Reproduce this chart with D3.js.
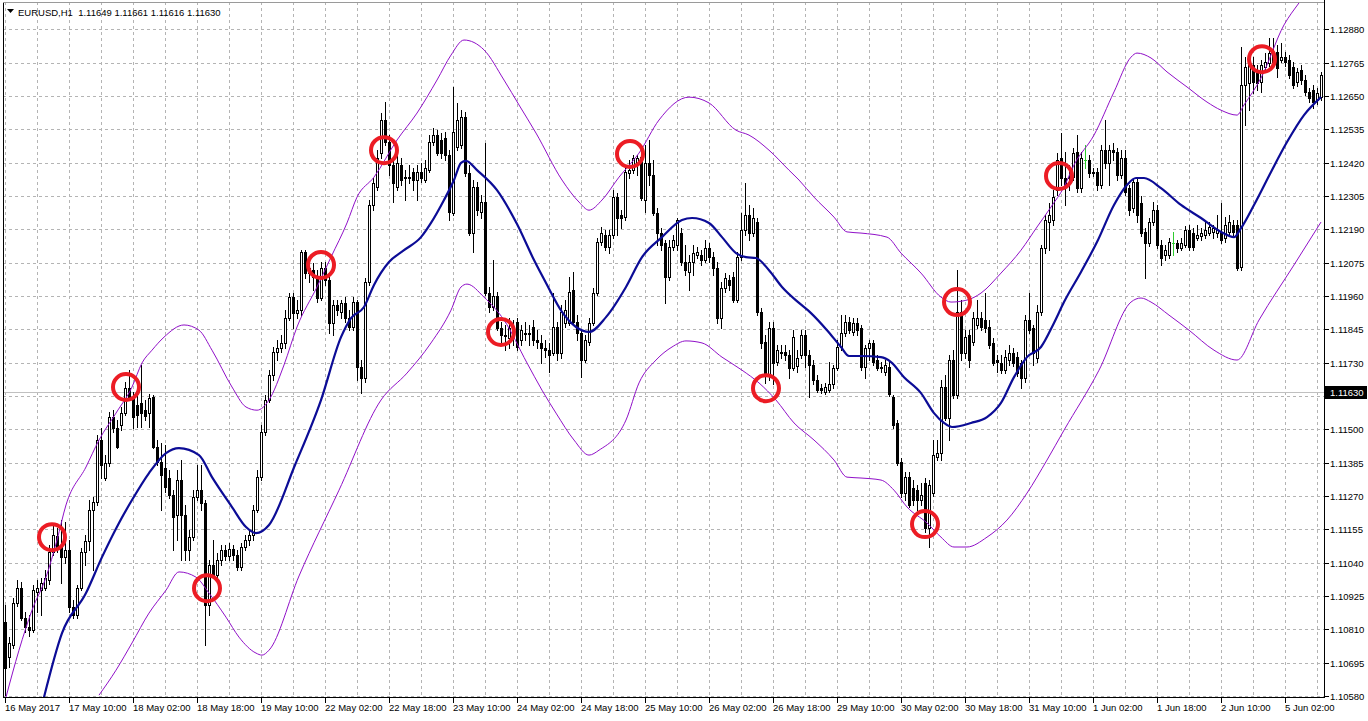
<!DOCTYPE html>
<html><head><meta charset="utf-8">
<script src="https://cdn.jsdelivr.net/npm/d3@7"></script>
<style>html,body{margin:0;padding:0;background:#fff;overflow:hidden}svg{display:block}</style>
</head><body><svg id="c" width="1368" height="721"></svg>
<script>
const symbolTitle = "EURUSD,H1";
const headerValues = ["1.11649","1.11661","1.11616","1.11630"];
const currentPrice = 1.11630;

const barOpen = [1.10835,1.10714,1.10756,1.10901,1.10952,1.10849,1.10818,1.10807,1.10939,1.10945,1.10952,1.10980,1.11077,1.11132,1.11094,1.11059,1.11083,1.10887,1.10859,1.10952,1.11077,1.11115,1.11221,1.11249,1.11463,1.11332,1.11384,1.11542,1.11504,1.11515,1.11556,1.11642,1.11611,1.11584,1.11591,1.11566,1.11556,1.11611,1.11439,1.11387,1.11366,1.11332,1.11273,1.11204,1.11325,1.11204,1.11083,1.11128,1.11266,1.11290,1.11246,1.10894,1.11032,1.10997,1.11049,1.11083,1.11063,1.11087,1.11066,1.11025,1.11094,1.11118,1.11135,1.11221,1.11335,1.11491,1.11601,1.11687,1.11767,1.11780,1.11798,1.11884,1.11956,1.11901,1.11911,1.12112,1.12056,1.12049,1.12025,1.11953,1.12056,1.12015,1.11867,1.11929,1.11905,1.11936,1.11884,1.11853,1.11939,1.11715,1.11677,1.12008,1.12274,1.12336,1.12453,1.12567,1.12491,1.12412,1.12336,1.12412,1.12367,1.12370,1.12388,1.12360,1.12388,1.12360,1.12394,1.12491,1.12515,1.12498,1.12505,1.12446,1.12246,1.12474,1.12481,1.12577,1.12384,1.12177,1.12336,1.12250,1.12284,1.11970,1.11922,1.11960,1.11849,1.11825,1.11815,1.11842,1.11870,1.11808,1.11829,1.11832,1.11853,1.11808,1.11798,1.11780,1.11773,1.11763,1.11853,1.11763,1.11867,1.11867,1.11980,1.11870,1.11832,1.11739,1.11801,1.11867,1.11970,1.12146,1.12170,1.12129,1.12170,1.12301,1.12239,1.12232,1.12384,1.12394,1.12412,1.12439,1.12291,1.12419,1.12377,1.12246,1.12177,1.12143,1.12025,1.12129,1.12136,1.12177,1.12077,1.12043,1.12077,1.12101,1.12101,1.12084,1.12125,1.12094,1.12056,1.11884,1.11987,1.12015,1.12025,1.11946,1.12094,1.12187,1.12239,1.12177,1.12215,1.11905,1.11801,1.11687,1.11849,1.11732,1.11767,1.11767,1.11756,1.11711,1.11718,1.11756,1.11825,1.11756,1.11722,1.11670,1.11642,1.11629,1.11635,1.11656,1.11711,1.11784,1.11832,1.11870,1.11835,1.11867,1.11849,1.11715,1.11780,1.11798,1.11739,1.11711,1.11698,1.11715,1.11611,1.11522,1.11387,1.11280,1.11335,1.11297,1.11290,1.11256,1.11315,1.11159,1.11280,1.11404,1.11418,1.11646,1.11539,1.11739,1.11618,1.11905,1.11763,1.11825,1.11801,1.11860,1.11884,1.11877,1.11853,1.11798,1.11739,1.11729,1.11704,1.11739,1.11763,1.11749,1.11729,1.11677,1.11877,1.11849,1.11746,1.11905,1.12125,1.12215,1.12222,1.12325,1.12436,1.12367,1.12367,1.12370,1.12457,1.12332,1.12429,1.12429,1.12384,1.12388,1.12343,1.12463,1.12419,1.12463,1.12457,1.12377,1.12436,1.12332,1.12263,1.12353,1.12281,1.12181,1.12143,1.12215,1.12256,1.12136,1.12101,1.12101,1.12143,1.12143,1.12125,1.12136,1.12187,1.12177,1.12160,1.12167,1.12170,1.12177,1.12181,1.12177,1.12181,1.12160,1.12181,1.12205,1.12205,1.12060,1.12688,1.12695,1.12757,1.12729,1.12698,1.12750,1.12764,1.12798,1.12802,1.12774,1.12784,1.12774,1.12750,1.12698,1.12739,1.12705,1.12664,1.12670,1.12636,1.12646];

const barHigh = [1.10894,1.10783,1.10918,1.10980,1.10973,1.10870,1.10859,1.10963,1.10980,1.10987,1.11014,1.11101,1.11170,1.11159,1.11187,1.11180,1.11118,1.10911,1.10963,1.11090,1.11135,1.11256,1.11266,1.11480,1.11504,1.11411,1.11560,1.11566,1.11532,1.11577,1.11663,1.11704,1.11629,1.11618,1.11722,1.11601,1.11622,1.11618,1.11463,1.11453,1.11446,1.11359,1.11290,1.11359,1.11394,1.11239,1.11152,1.11290,1.11377,1.11377,1.11256,1.11049,1.11118,1.11073,1.11101,1.11101,1.11108,1.11101,1.11083,1.11108,1.11135,1.11152,1.11239,1.11359,1.11515,1.11618,1.11704,1.11784,1.11808,1.11825,1.11911,1.11970,1.11970,1.11946,1.12118,1.12118,1.12091,1.12074,1.12049,1.12077,1.12077,1.12032,1.11946,1.11946,1.11946,1.11956,1.11911,1.11956,1.11946,1.11739,1.12022,1.12291,1.12367,1.12463,1.12591,1.12629,1.12515,1.12429,1.12446,1.12436,1.12394,1.12412,1.12401,1.12412,1.12419,1.12429,1.12515,1.12539,1.12532,1.12522,1.12526,1.12463,1.12681,1.12626,1.12601,1.12595,1.12412,1.12360,1.12353,1.12308,1.12488,1.11991,1.12084,1.11974,1.11870,1.11860,1.11884,1.11877,1.11884,1.11860,1.11870,1.11860,1.11877,1.11842,1.11825,1.11808,1.11798,1.11970,1.11870,1.11929,1.11946,1.12025,1.12043,1.11894,1.11842,1.11825,1.11884,1.11987,1.12160,1.12198,1.12187,1.12187,1.12325,1.12315,1.12256,1.12401,1.12429,1.12446,1.12446,1.12453,1.12481,1.12498,1.12429,1.12263,1.12194,1.12153,1.12153,1.12170,1.12229,1.12194,1.12136,1.12101,1.12136,1.12129,1.12118,1.12153,1.12143,1.12112,1.12077,1.12008,1.12039,1.12032,1.12043,1.12112,1.12246,1.12350,1.12274,1.12263,1.12229,1.11918,1.11825,1.11870,1.11870,1.11791,1.11791,1.11791,1.11773,1.11842,1.11773,1.11842,1.11842,1.11773,1.11739,1.11687,1.11656,1.11660,1.11732,1.11722,1.11808,1.11894,1.11894,1.11887,1.11884,1.11884,1.11860,1.11791,1.11808,1.11808,1.11756,1.11732,1.11739,1.11732,1.11618,1.11532,1.11401,1.11353,1.11353,1.11325,1.11308,1.11315,1.11332,1.11325,1.11463,1.11463,1.11670,1.11687,1.11756,1.11773,1.12049,1.11946,1.11842,1.11842,1.11905,1.11946,1.11905,1.11970,1.11877,1.11815,1.11756,1.11756,1.11773,1.11791,1.11780,1.11767,1.11739,1.11894,1.11970,1.11860,1.11929,1.12136,1.12239,1.12281,1.12325,1.12453,1.12522,1.12457,1.12412,1.12470,1.12515,1.12457,1.12481,1.12446,1.12401,1.12401,1.12481,1.12567,1.12481,1.12488,1.12470,1.12463,1.12463,1.12343,1.12367,1.12367,1.12305,1.12194,1.12229,1.12284,1.12274,1.12153,1.12136,1.12160,1.12181,1.12153,1.12160,1.12201,1.12205,1.12194,1.12205,1.12194,1.12222,1.12215,1.12205,1.12239,1.12281,1.12232,1.12239,1.12222,1.12222,1.12819,1.12784,1.12774,1.12784,1.12757,1.12774,1.12798,1.12850,1.12850,1.12826,1.12833,1.12802,1.12791,1.12767,1.12746,1.12757,1.12722,1.12677,1.12688,1.12677,1.12733];

const barLow = [1.10583,1.10680,1.10745,1.10890,1.10842,1.10801,1.10787,1.10801,1.10870,1.10859,1.10945,1.10966,1.11066,1.11077,1.10970,1.11039,1.10870,1.10849,1.10849,1.10945,1.11032,1.11083,1.11014,1.11239,1.11332,1.11325,1.11373,1.11491,1.11435,1.11497,1.11549,1.11601,1.11504,1.11508,1.11508,1.11532,1.11508,1.11435,1.11377,1.11221,1.11284,1.11263,1.11083,1.11118,1.11049,1.11049,1.11049,1.11118,1.11256,1.11221,1.10756,1.10859,1.10987,1.10980,1.11032,1.11049,1.11049,1.11049,1.11014,1.11014,1.11083,1.11101,1.11118,1.11215,1.11325,1.11480,1.11594,1.11670,1.11739,1.11767,1.11780,1.11877,1.11849,1.11884,1.11894,1.12022,1.12008,1.11980,1.11939,1.11946,1.11998,1.11832,1.11825,1.11894,1.11884,1.11870,1.11842,1.11842,1.11670,1.11625,1.11663,1.11998,1.12256,1.12325,1.12436,1.12481,1.12377,1.12284,1.12325,1.12343,1.12291,1.12350,1.12325,1.12291,1.12353,1.12353,1.12388,1.12481,1.12446,1.12436,1.12429,1.12222,1.12239,1.12463,1.12470,1.12374,1.12170,1.12112,1.12239,1.12229,1.11963,1.11905,1.11911,1.11842,1.11791,1.11773,1.11780,1.11791,1.11773,1.11791,1.11808,1.11791,1.11791,1.11780,1.11729,1.11749,1.11698,1.11756,1.11739,1.11746,1.11853,1.11860,1.11860,1.11808,1.11680,1.11732,1.11791,1.11860,1.11963,1.12136,1.12118,1.12108,1.12160,1.12170,1.12194,1.12222,1.12367,1.12384,1.12377,1.12291,1.12250,1.12343,1.12239,1.12136,1.12118,1.11936,1.12015,1.12118,1.12118,1.12067,1.12032,1.11980,1.12032,1.12091,1.12067,1.12077,1.12077,1.12032,1.11867,1.11849,1.11974,1.11980,1.11939,1.11939,1.12084,1.12170,1.12153,1.12167,1.11894,1.11780,1.11660,1.11670,1.11656,1.11722,1.11746,1.11739,1.11677,1.11704,1.11698,1.11746,1.11715,1.11611,1.11656,1.11629,1.11625,1.11622,1.11629,1.11642,1.11704,1.11773,1.11822,1.11832,1.11825,1.11825,1.11704,1.11677,1.11739,1.11722,1.11704,1.11698,1.11687,1.11615,1.11504,1.11377,1.11266,1.11256,1.11232,1.11239,1.11221,1.11239,1.11146,1.11094,1.11270,1.11394,1.11394,1.11532,1.11463,1.11608,1.11608,1.11739,1.11746,1.11715,1.11791,1.11849,1.11842,1.11836,1.11780,1.11722,1.11698,1.11694,1.11694,1.11722,1.11718,1.11684,1.11642,1.11663,1.11832,1.11722,1.11732,1.11894,1.12108,1.12118,1.12205,1.12308,1.12343,1.12274,1.12325,1.12360,1.12319,1.12319,1.12401,1.12370,1.12374,1.12325,1.12332,1.12401,1.12343,1.12429,1.12360,1.12367,1.12308,1.12239,1.12250,1.12215,1.12167,1.12022,1.12132,1.12205,1.12125,1.12067,1.12084,1.12091,1.12101,1.12112,1.12118,1.12129,1.12118,1.12118,1.12153,1.12153,1.12160,1.12170,1.12160,1.12163,1.12143,1.12146,1.12170,1.12170,1.12049,1.12049,1.12550,1.12601,1.12660,1.12670,1.12664,1.12739,1.12753,1.12757,1.12715,1.12767,1.12753,1.12712,1.12677,1.12684,1.12691,1.12653,1.12629,1.12608,1.12622,1.12636];

const barClose = [1.10676,1.10763,1.10901,1.10952,1.10849,1.10818,1.10807,1.10945,1.10952,1.10970,1.10987,1.11077,1.11135,1.11094,1.11059,1.11083,1.10887,1.10859,1.10952,1.11077,1.11115,1.11221,1.11249,1.11463,1.11377,1.11384,1.11542,1.11504,1.11439,1.11556,1.11642,1.11611,1.11542,1.11549,1.11556,1.11546,1.11608,1.11439,1.11387,1.11342,1.11301,1.11273,1.11197,1.11325,1.11204,1.11083,1.11128,1.11266,1.11290,1.11246,1.10894,1.11032,1.10997,1.11049,1.11083,1.11063,1.11087,1.11066,1.11025,1.11094,1.11118,1.11135,1.11221,1.11335,1.11491,1.11601,1.11687,1.11767,1.11780,1.11798,1.11884,1.11956,1.11901,1.11911,1.12112,1.12039,1.12039,1.12025,1.11953,1.12056,1.12015,1.11867,1.11929,1.11911,1.11936,1.11884,1.11853,1.11939,1.11715,1.11677,1.12008,1.12274,1.12350,1.12436,1.12567,1.12491,1.12412,1.12350,1.12419,1.12360,1.12370,1.12367,1.12360,1.12388,1.12367,1.12401,1.12491,1.12515,1.12453,1.12453,1.12446,1.12250,1.12526,1.12567,1.12577,1.12384,1.12177,1.12336,1.12256,1.12284,1.11970,1.11922,1.11960,1.11849,1.11825,1.11822,1.11849,1.11835,1.11784,1.11842,1.11832,1.11829,1.11808,1.11801,1.11780,1.11773,1.11756,1.11853,1.11763,1.11905,1.11911,1.11974,1.11870,1.11832,1.11739,1.11808,1.11867,1.11970,1.12146,1.12177,1.12129,1.12170,1.12301,1.12229,1.12229,1.12388,1.12394,1.12436,1.12436,1.12298,1.12419,1.12377,1.12246,1.12177,1.12136,1.12025,1.12129,1.12153,1.12222,1.12077,1.12049,1.12077,1.12108,1.12112,1.12084,1.12125,1.12094,1.12056,1.11884,1.11987,1.12022,1.11998,1.11946,1.12094,1.12187,1.12239,1.12177,1.12229,1.11905,1.11798,1.11687,1.11849,1.11729,1.11773,1.11763,1.11756,1.11711,1.11818,1.11746,1.11825,1.11756,1.11722,1.11670,1.11635,1.11635,1.11646,1.11656,1.11711,1.11784,1.11832,1.11870,1.11842,1.11867,1.11842,1.11715,1.11780,1.11798,1.11732,1.11711,1.11715,1.11722,1.11621,1.11515,1.11384,1.11280,1.11335,1.11239,1.11256,1.11256,1.11273,1.11159,1.11308,1.11411,1.11418,1.11646,1.11539,1.11739,1.11618,1.11905,1.11763,1.11818,1.11739,1.11884,1.11884,1.11853,1.11849,1.11791,1.11729,1.11732,1.11704,1.11749,1.11763,1.11729,1.11694,1.11677,1.11877,1.11842,1.11763,1.11905,1.12125,1.12222,1.12239,1.12301,1.12429,1.12367,1.12343,1.12370,1.12453,1.12332,1.12436,1.12429,1.12384,1.12388,1.12343,1.12463,1.12419,1.12463,1.12457,1.12377,1.12436,1.12319,1.12256,1.12353,1.12239,1.12177,1.12143,1.12215,1.12256,1.12136,1.12091,1.12118,1.12146,1.12143,1.12125,1.12143,1.12187,1.12129,1.12129,1.12170,1.12177,1.12187,1.12198,1.12194,1.12187,1.12153,1.12205,1.12215,1.12181,1.12056,1.12688,1.12750,1.12757,1.12698,1.12695,1.12757,1.12767,1.12798,1.12767,1.12746,1.12784,1.12767,1.12722,1.12688,1.12733,1.12705,1.12664,1.12643,1.12629,1.12660,1.12722];

// Moving average (blue), sampled along the line: bar position and value
const maBar = [9.75,14.25,20.25,24.25,28.5,31.75,36,40.25,43.5,48.5,51.75,56.75,60.25,62.75,66,72.5,79,84,86.5,89.75,92.25,96,99.75,104,106.5,109.75,112.25,114,115.25,118,123,128,132.25,135.25,139.25,142.75,146,150.25,155.25,159.25,164.25,169.25,171.75,176,179.25,182.75,185.25,187.75,191,194.25,198.5,201.5,205.5,209,211,214,219,221.5,224.75,229,232.25,234.75,236.75,241.5,245.5,249,252.25,255.5,259,262.25,264.75,269,273,277.25,280.5,282.75,284.75,289,294,299,304,307.25,309,312.25,316.5,320.5,324.75,329];
const maVal = [1.10576,1.10797,1.10935,1.11059,1.11177,1.11256,1.11349,1.11418,1.11435,1.11411,1.11335,1.11232,1.11163,1.11142,1.11170,1.11377,1.11601,1.11818,1.11884,1.11922,1.11998,1.12077,1.12118,1.12163,1.12212,1.12291,1.12360,1.12419,1.12426,1.12394,1.12325,1.12208,1.12084,1.12005,1.11905,1.11853,1.11836,1.11887,1.11991,1.12094,1.12163,1.12222,1.12229,1.12212,1.12163,1.12108,1.12094,1.12091,1.12049,1.11991,1.11936,1.11901,1.11842,1.11784,1.11753,1.11753,1.11749,1.11732,1.11680,1.11625,1.11556,1.11522,1.11508,1.11522,1.11542,1.11591,1.11680,1.11749,1.11784,1.11867,1.11939,1.12043,1.12146,1.12274,1.12343,1.12367,1.12367,1.12332,1.12274,1.12229,1.12181,1.12163,1.12194,1.12274,1.12388,1.12491,1.12584,1.12646];

// Envelope upper band (purple)
const envUpBar = [0.25,3.5,6.75,10.25,13,15.25,20.25,23.5,27.75,31.75,34.25,36.75,39.75,44.75,48.5,51.75,56.75,60.25,63,66,69.75,73,78,81.5,85.5,88,92.25,98,103,108,111.5,114.75,119.75,124.75,128.5,132.75,139.25,143.5,146,149.25,153.5,158.5,163.5,171,176,182.75,186,191,196,198.5,202.25,207.25,210.5,214,220.5,224,229,234,236.5,240.5,244,249,254,258,261.5,264.75,267.25,272.25,277.25,281.5,283,286.5,290.5,295.5,300.5,304,308,309.75,314,319.75,323.5,329];
const envUpVal = [1.10576,1.10738,1.10876,1.10990,1.11118,1.11239,1.11370,1.11463,1.11556,1.11646,1.11729,1.11773,1.11818,1.11860,1.11842,1.11773,1.11646,1.11577,1.11566,1.11601,1.11722,1.11853,1.11991,1.12094,1.12212,1.12301,1.12370,1.12498,1.12591,1.12705,1.12791,1.12843,1.12809,1.12705,1.12619,1.12522,1.12360,1.12284,1.12256,1.12291,1.12370,1.12453,1.12567,1.12646,1.12626,1.12532,1.12515,1.12463,1.12394,1.12360,1.12301,1.12232,1.12181,1.12177,1.12163,1.12108,1.12039,1.11956,1.11939,1.11946,1.11970,1.12039,1.12118,1.12198,1.12267,1.12336,1.12412,1.12515,1.12664,1.12784,1.12798,1.12781,1.12733,1.12681,1.12629,1.12601,1.12584,1.12619,1.12712,1.12895,1.12971,1.13067];

// Envelope lower band (purple)
const envLoBar = [23.5,27.75,31.75,36,40.25,43.5,47.75,51,55.25,58.5,62.75,64.25,66,73.5,83.5,94,100.5,106.5,111.5,114,115.5,119.75,124.75,130.5,134.25,137.75,142.25,146,148.5,155.25,158.5,162.75,166.75,170.25,174.25,179.25,184.25,188.5,192.75,197.25,202.25,207.25,210.5,214,219,222.25,225.5,230.5,234,237.25,240.5,245.5,250.5,255.5,260.5,264.75,273.5,281.5,284,286.5,291,296,302.25,308,313.5,322.25,329];
const envLoVal = [1.10583,1.10669,1.10763,1.10866,1.10945,1.11008,1.10990,1.10935,1.10852,1.10783,1.10728,1.10721,1.10738,1.10994,1.11290,1.11601,1.11694,1.11798,1.11911,1.11991,1.12001,1.11956,1.11877,1.11729,1.11635,1.11556,1.11463,1.11411,1.11428,1.11532,1.11660,1.11739,1.11784,1.11805,1.11798,1.11749,1.11704,1.11660,1.11601,1.11522,1.11463,1.11394,1.11335,1.11332,1.11325,1.11290,1.11232,1.11177,1.11128,1.11094,1.11094,1.11128,1.11187,1.11280,1.11394,1.11497,1.11704,1.11939,1.11953,1.11939,1.11894,1.11842,1.11773,1.11739,1.11877,1.12067,1.12215];

// Highlight circles (red): bar position and price
const circleBar = [11.75,30.25,50.5,79,94.75,124,156.25,190.25,230,238,263.5,314.25];
const circlePrice = [1.11128,1.11646,1.10952,1.12067,1.12463,1.11836,1.12450,1.11642,1.11173,1.11939,1.12374,1.12777];

const timeTickBars = [0,16,32,48,64,80,96,112,128,144,160,176,192,208,224,240,256,272,288,304,320];
const timeTickLabels = ["16 May 2017","17 May 10:00","18 May 02:00","18 May 18:00","19 May 10:00","22 May 02:00","22 May 18:00","23 May 10:00","24 May 02:00","24 May 18:00","25 May 10:00","26 May 02:00","26 May 18:00","29 May 10:00","30 May 02:00","30 May 18:00","31 May 10:00","1 Jun 02:00","1 Jun 18:00","2 Jun 10:00","5 Jun 02:00"];
const priceTicks = [1.10580,1.10695,1.10810,1.10925,1.11040,1.11155,1.11270,1.11385,1.11500,1.11615,1.11730,1.11845,1.11960,1.12075,1.12190,1.12305,1.12420,1.12535,1.12650,1.12765,1.12880];

// ---------- drawing ----------
const W = 1368, H = 721;
const plot = {left: 3, top: 2, right: 1324, bottom: 697};
const FONT = "'Liberation Sans', Arial, sans-serif";
const n = barClose.length;
const x = d3.scaleLinear().domain([0, n - 1]).range([5, 1321]);
const y = d3.scaleLinear().domain([1.10580, 1.12880]).range([696, 29.3]);
const px = i => Math.round(x(i));
const py = v => Math.round(y(v));

const svg = d3.select("#c");
svg.append("rect").attr("width", W).attr("height", H).attr("fill", "#fff");
svg.append("defs").append("clipPath").attr("id", "clip")
  .append("rect").attr("x", plot.left + 1).attr("y", plot.top + 1)
  .attr("width", plot.right - plot.left - 1).attr("height", plot.bottom - plot.top - 1);

// grid
const grid = svg.append("g").attr("shape-rendering", "crispEdges")
  .attr("stroke", "#b4b4b4").attr("stroke-dasharray", "3,3").attr("stroke-width", 1);
priceTicks.forEach(p => {
  grid.append("line").attr("x1", plot.left).attr("x2", plot.right)
    .attr("y1", py(p) + 0.5).attr("y2", py(p) + 0.5);
});
d3.range(0, n, 8).forEach(i => {
  grid.append("line").attr("y1", plot.top).attr("y2", plot.bottom)
    .attr("x1", px(i) + 0.5).attr("x2", px(i) + 0.5);
});

// current price line
svg.append("line").attr("shape-rendering", "crispEdges")
  .attr("x1", plot.left).attr("x2", plot.right)
  .attr("y1", py(currentPrice) + 0.5).attr("y2", py(currentPrice) + 0.5)
  .attr("stroke", "#c0c0c0").attr("stroke-width", 1);

// candles
const cg = svg.append("g").attr("clip-path", "url(#clip)").attr("shape-rendering", "crispEdges");
for (let i = 0; i < n; i++) {
  const o = barOpen[i], h = barHigh[i], l = barLow[i], c = barClose[i];
  const cx = px(i);
  const doji = (o === c);
  const col = doji ? "#2ecc2e" : "#000";
  cg.append("line").attr("x1", cx + 0.5).attr("x2", cx + 0.5)
    .attr("y1", py(h)).attr("y2", py(l) + 1).attr("stroke", col).attr("stroke-width", 1);
  const top = py(Math.max(o, c)), bot = py(Math.min(o, c));
  if (doji) {
    cg.append("line").attr("x1", cx - 1).attr("x2", cx + 2)
      .attr("y1", top + 0.5).attr("y2", top + 0.5).attr("stroke", col);
  } else if (c > o) {
    cg.append("rect").attr("x", cx - 0.5).attr("y", top + 0.5)
      .attr("width", 2).attr("height", Math.max(bot - top, 1))
      .attr("fill", "#fff").attr("stroke", "#000").attr("stroke-width", 1);
  } else {
    cg.append("rect").attr("x", cx - 1).attr("y", top)
      .attr("width", 3).attr("height", Math.max(bot - top, 1) + 1)
      .attr("fill", "#000");
  }
}

// indicator lines
const lg = svg.append("g").attr("clip-path", "url(#clip)").attr("fill", "none");
const lineGen = d3.line().x(d => x(d[0])).y(d => y(d[1])).curve(d3.curveMonotoneX);
lg.append("path").attr("d", lineGen(envUpBar.map((b, k) => [b, envUpVal[k]])))
  .attr("stroke", "#9010c8").attr("stroke-width", 1);
lg.append("path").attr("d", lineGen(envLoBar.map((b, k) => [b, envLoVal[k]])))
  .attr("stroke", "#9010c8").attr("stroke-width", 1);
lg.append("path").attr("d", lineGen(maBar.map((b, k) => [b, maVal[k]])))
  .attr("stroke", "#0c0c96").attr("stroke-width", 2.2);

// red circles
lg.selectAll("circle.mark").data(circleBar).join("circle").attr("class", "mark")
  .attr("cx", (b) => x(b)).attr("cy", (b, k) => y(circlePrice[k])).attr("r", 13)
  .attr("fill", "none").attr("stroke", "#ec1c24").attr("stroke-width", 4);

// frame
const fr = svg.append("g").attr("shape-rendering", "crispEdges").attr("stroke", "#000");
fr.append("line").attr("x1", plot.left + 0.5).attr("x2", plot.left + 0.5).attr("y1", plot.top).attr("y2", plot.bottom + 1);
fr.append("line").attr("x1", plot.left).attr("x2", plot.right + 1).attr("y1", plot.top + 0.5).attr("y2", plot.top + 0.5).attr("stroke", "#9a9a9a");
fr.append("line").attr("x1", plot.right + 0.5).attr("x2", plot.right + 0.5).attr("y1", 0).attr("y2", plot.bottom + 1);
fr.append("line").attr("x1", plot.left).attr("x2", plot.right + 1).attr("y1", plot.bottom + 0.5).attr("y2", plot.bottom + 0.5);

// price axis
const cy0 = py(currentPrice);
const ax = svg.append("g").attr("font-family", FONT).attr("font-size", "9.5px").attr("fill", "#000");
priceTicks.forEach(p => {
  ax.append("line").attr("shape-rendering", "crispEdges").attr("x1", plot.right + 1).attr("x2", plot.right + 5)
    .attr("y1", py(p) + 0.5).attr("y2", py(p) + 0.5).attr("stroke", "#000");
  // the label hidden under the current-price tag is not drawn
  if (Math.abs(py(p) - cy0) > 9) {
    ax.append("text").attr("x", plot.right + 6).attr("y", py(p) + 4).text(d3.format(".5f")(p));
  }
});
// current price tag
ax.append("rect").attr("x", plot.right + 1).attr("y", cy0 - 6).attr("width", 42).attr("height", 13).attr("fill", "#000");
ax.append("text").attr("x", plot.right + 6).attr("y", cy0 + 4).attr("fill", "#fff").text(d3.format(".5f")(currentPrice));

// time axis
timeTickBars.forEach((b, k) => {
  const tx = px(b);
  ax.append("line").attr("shape-rendering", "crispEdges").attr("x1", tx + 0.5).attr("x2", tx + 0.5)
    .attr("y1", plot.bottom + 1).attr("y2", plot.bottom + 6).attr("stroke", "#000");
  ax.append("text").attr("x", tx).attr("y", plot.bottom + 14).text(timeTickLabels[k]);
});

// header
svg.append("path").attr("d", "M7,9 L14,9 L10.5,13 Z").attr("fill", "#000");
svg.append("text").attr("x", 18).attr("y", 16).attr("font-family", FONT).attr("font-size", "9.5px")
  .attr("xml:space", "preserve").style("white-space", "pre")
  .text(symbolTitle + "  " + headerValues.join(" "));
</script>
</body></html>
